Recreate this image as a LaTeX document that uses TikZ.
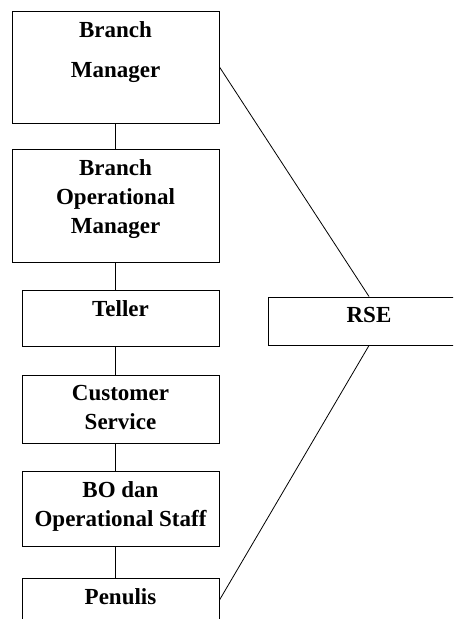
\documentclass[tikz,border=0pt]{standalone}
\usepackage{fontspec}
\setmainfont{Liberation Serif}
\usetikzlibrary{calc, positioning}
\tikzset{
    unit/.style = {draw, line width=1pt, inner sep=0pt},
    utext/.style = {font=\bfseries\fontsize{23}{29}\selectfont, align=center, inner sep=0pt},
    link/.style = {line width=0.8pt}
}
\newcommand{\drawU}[5]{
    \node[unit, minimum width=#3, minimum height=#4] (#1) at (#2) {};
    \node[utext, below=11pt of #1.north] (#1-t) {#5};
}

\begin{document}
\begin{tikzpicture}[x=1pt, y=-1pt]
    \useasboundingbox (0,0) rectangle (453,619);
    \clip (0,0) rectangle (453,619);

    % Units
        \drawU{bm}{115.5,67}{207}{112}{Branch\\[11pt]Manager}
        \drawU{bom}{115.5,205.5}{207}{113}{Branch\\Operational\\Manager}
        \drawU{tel}{120.5,318}{197}{56}{Teller}
        \drawU{cs}{120.5,409}{197}{68}{Customer\\Service}
        \drawU{bo}{120.5,508.5}{197}{75}{BO dan\\Operational Staff}
        \drawU{pen}{120.5,600}{197}{44}{Penulis}
        \drawU{rse}{369,321}{202}{48}{RSE}

    % Line of command
        \draw[link] (bm) -- (bom);
        \draw[link] (bom.south) -- (bom.south |- tel.north);
        \draw[link] (tel.south -| bom.south) -- (cs.north -| bom.south);
        \draw[link] (cs.south -| bom.south) -- (bo.north -| bom.south);
        \draw[link] (bo.south -| bom.south) -- (pen.north -| bom.south);

    % RSE
        \draw[link] (bm.east) -- (rse.north);
        \draw[link] (pen.east) -- (rse.south);
\end{tikzpicture}
\end{document}
